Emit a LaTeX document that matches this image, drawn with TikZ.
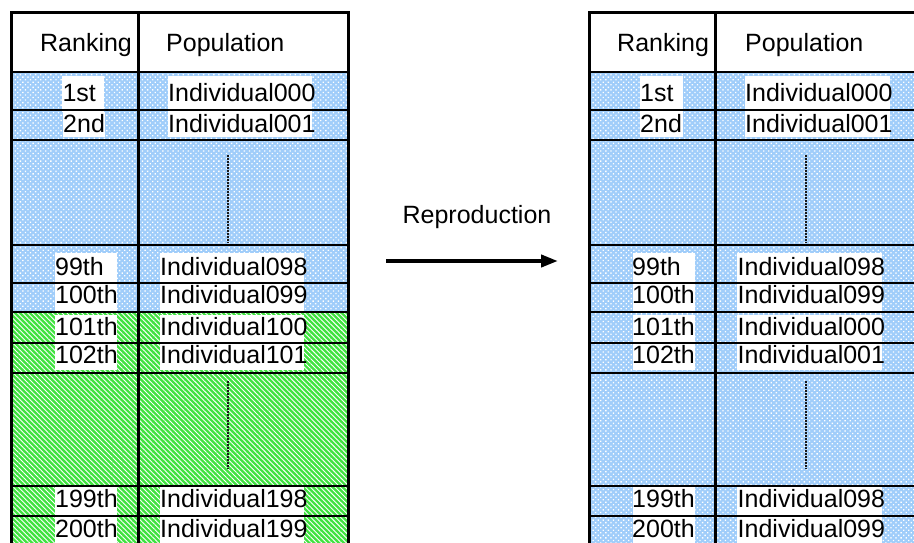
\documentclass[tikz,border=0pt]{standalone}
\usepackage{fontspec}
\setmainfont{Liberation Sans}
\usetikzlibrary{patterns,patterns.meta,arrows.meta}
\definecolor{cellblue}{RGB}{160,205,250}
\definecolor{cellgreen}{RGB}{64,226,64}
\tikzset{
  bluecell/.style={fill=cellblue, postaction={pattern={Dots[radius=0.95pt,distance=3.6pt,angle=45]}, pattern color=white}},
  greencell/.style={fill=cellgreen, postaction={pattern={Lines[angle=-45,distance=3.5pt,line width=0.9pt]}, pattern color=white}},
  frameline/.style={line width=3pt, line cap=rect},
  rowline/.style={line width=1.2pt},
  gapline/.style={line width=2.6pt, dash pattern=on 2pt off 1pt, black!90},
  celltext/.style={font=\fontsize{25}{30}\selectfont, inner sep=0pt, anchor=base west},
}
\begin{document}
\begin{tikzpicture}[x=1pt,y=-1pt]
\clip (0,0) rectangle (914,543);
\fill[white] (0,0) rectangle (914,543);

% cell backgrounds
\path[bluecell] (11,72) rectangle (348,312);
\path[greencell] (11,312) rectangle (348,560);
\path[bluecell] (589,72) rectangle (930,560);

% white boxes behind the cell texts
\foreach \xa/\ya/\xb/\yb in {
  62/76/104/112, 63/112/105/137, 168/76/312/137,
  55/253/117/312, 55/315/117/370, 160/253/304/312, 160/315/304/370,
  55/485/117/560, 160/485/304/560,
  640/76/683/137, 745/76/890/137,
  633/253/695/312, 633/315/695/370, 737/253/882/312, 737/315/882/370,
  633/485/695/560, 737/485/882/560}
  \fill[white] (\xa,\ya) rectangle (\xb,\yb);

% row separators
\foreach \y in {72,110,140,245,283,312,343,373,486,516} {
  \draw[rowline] (11,\y) -- (348,\y);
  \draw[rowline] (589,\y) -- (930,\y);
}

% elided rows
\draw[gapline] (228,155) -- (228,243);
\draw[gapline] (228,381) -- (228,469);
\draw[gapline] (806,155) -- (806,243);
\draw[gapline] (806,381) -- (806,469);

% table frames
\draw[frameline] (11,560) -- (11,13) -- (348,13) -- (348,560);
\draw[frameline] (138,13) -- (138,560);
\draw[frameline] (589,560) -- (589,13) -- (930,13);
\draw[frameline] (715.5,13) -- (715.5,560);

% left table: before reproduction
\node[celltext] (lhr) at (40,52) {Ranking};
\node[celltext] (lhp) at (166,52) {Population};
\node[celltext] (lr1) at (62.3,102) {1st};
\node[celltext] (lr2) at (63,132) {2nd};
\node[celltext] (lp1) at (168,102) {Individual000};
\node[celltext] (lp2) at (168,132) {Individual001};
\node[celltext] (lr99) at (55,275) {99th};
\node[celltext] (lr100) at (55,303) {100th};
\node[celltext] (lr101) at (55,335) {101th};
\node[celltext] (lr102) at (55,363) {102th};
\node[celltext] (lp98) at (160,275) {Individual098};
\node[celltext] (lp99) at (160,303) {Individual099};
\node[celltext] (lp100) at (160,335) {Individual100};
\node[celltext] (lp101) at (160,363) {Individual101};
\node[celltext] (lr199) at (55,507) {199th};
\node[celltext] (lr200) at (55,537) {200th};
\node[celltext] (lp198) at (160,507) {Individual198};
\node[celltext] (lp199) at (160,537) {Individual199};

% right table: after reproduction
\node[celltext] (rhr) at (617,52) {Ranking};
\node[celltext] (rhp) at (745,52) {Population};
\node[celltext] (rr1) at (640,102) {1st};
\node[celltext] (rr2) at (640,132) {2nd};
\node[celltext] (rp1) at (745,102) {Individual000};
\node[celltext] (rp2) at (745,132) {Individual001};
\node[celltext] (rr99) at (632,275) {99th};
\node[celltext] (rr100) at (632,303) {100th};
\node[celltext] (rr101) at (632,335) {101th};
\node[celltext] (rr102) at (632,363) {102th};
\node[celltext] (rp98) at (737.5,275) {Individual098};
\node[celltext] (rp99) at (737.5,303) {Individual099};
\node[celltext] (rp100) at (737.5,335) {Individual000};
\node[celltext] (rp101) at (737.5,363) {Individual001};
\node[celltext] (rr199) at (632,507) {199th};
\node[celltext] (rr200) at (632,537) {200th};
\node[celltext] (rp198) at (737.5,507) {Individual098};
\node[celltext] (rp199) at (737.5,537) {Individual099};

% reproduction step
\node[celltext, anchor=base] (repro) at (477,223) {Reproduction};
\coordinate (arrowtail) at (386,261);
\coordinate (arrowtip) at (558,261);
\draw[line width=4pt, -{Triangle[length=17pt,width=12pt]}] (arrowtail) -- (arrowtip);
\end{tikzpicture}
\end{document}
